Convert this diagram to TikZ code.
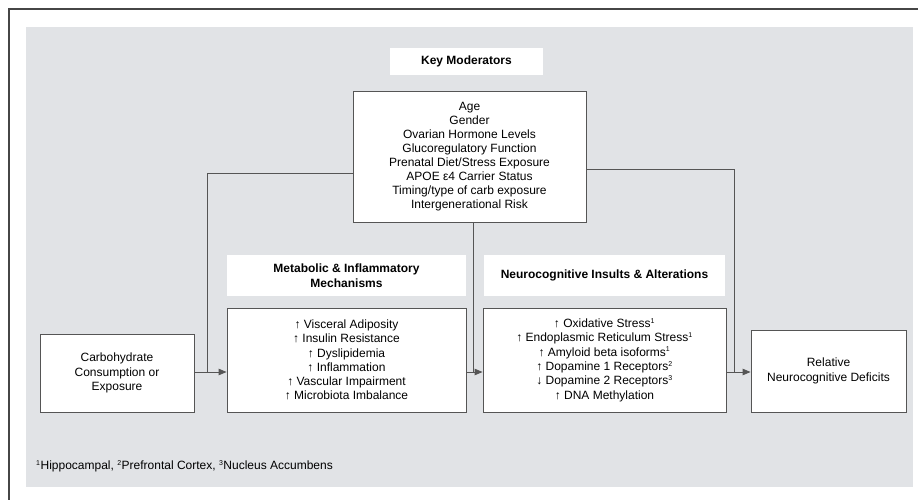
\documentclass[tikz,border=0pt]{standalone}
\usepackage{fontspec}
\setmainfont{Liberation Sans}
\usetikzlibrary{arrows.meta}
\definecolor{panel}{RGB}{225,227,230}
\definecolor{edge}{RGB}{85,85,85}
\definecolor{frame}{RGB}{70,70,70}
\newcommand{\sps}[1]{\textsuperscript{\fontsize{7}{7}\selectfont #1}}
\tikzset{
  box/.style={draw=edge, line width=0.9pt, fill=white, align=center, inner sep=0pt,
    font=\fontsize{12}{14.3}\selectfont},
  hdr/.style={fill=white, align=center, inner sep=0pt, font=\fontsize{12}{15}\bfseries\selectfont},
  conn/.style={draw=edge, line width=0.9pt},
  arr/.style={conn, -{Triangle[length=8pt,width=6.5pt]}},
}
\begin{document}
\begin{tikzpicture}[x=1pt,y=-1pt]
\useasboundingbox (0,0) rectangle (918,500);
\fill[white] (0,0) rectangle (918,500);
\draw[frame, line width=1.4pt] (9,500) -- (9,9) -- (918,9);
\fill[panel] (26,27) rectangle (913,487);

\node[hdr, minimum width=153pt, minimum height=27pt] (keyhdr) at (466.5,61.5) {Key Moderators};
\node[box, minimum width=233pt, minimum height=131pt, font=\fontsize{12}{14}\selectfont] (mod) at (469.5,156.5)
 {Age\\Gender\\Ovarian Hormone Levels\\Glucoregulatory Function\\Prenatal Diet/Stress Exposure\\APOE ε4 Carrier Status\\Timing/type of carb exposure\\Intergenerational Risk};

\node[hdr, minimum width=239pt, minimum height=41pt] (methdr) at (346.5,275.5) {Metabolic \& Inflammatory\\Mechanisms};
\node[hdr, minimum width=241pt, minimum height=41pt] (neuhdr) at (604.5,275.5) {Neurocognitive Insults \& Alterations};

\node[box, minimum width=154pt, minimum height=78pt, font=\fontsize{12}{14.8}\selectfont] (carb) at (117,373) {Carbohydrate\\Consumption or\\Exposure};
\node[box, minimum width=239pt, minimum height=104pt] (metab) at (346.5,360)
 {↑ Visceral Adiposity\\↑ Insulin Resistance\\↑ Dyslipidemia\\↑ Inflammation\\↑ Vascular Impairment\\↑ Microbiota Imbalance};
\node[box, minimum width=243pt, minimum height=104pt] (neuro) at (604.5,360)
 {↑ Oxidative Stress\sps{1}\\↑ Endoplasmic Reticulum Stress\sps{1}\\↑ Amyloid beta isoforms\sps{1}\\↑ Dopamine 1 Receptors\sps{2}\\↓ Dopamine 2 Receptors\sps{3}\\↑ DNA Methylation};
\node[box, minimum width=155pt, minimum height=82pt, font=\fontsize{12}{15.5}\selectfont] (rel) at (828.5,371) {Relative\\Neurocognitive Deficits};

\node[anchor=west, inner sep=0pt, font=\fontsize{12}{13}\selectfont] (foot) at (36,466)
 {\sps{1}Hippocampal, \sps{2}Prefrontal Cortex, \sps{3}Nucleus Accumbens};

\coordinate (ay) at (0,372);
\coordinate (lt) at (207,173);
\coordinate (rt) at (734,169);
\coordinate (lj) at (207,372);
\coordinate (mj) at (473,372);
\coordinate (rj) at (734,372);

\draw[arr] (carb.east |- ay) -- (metab.west |- ay);
\draw[arr] (metab.east |- ay) -- (neuro.west |- ay);
\draw[arr] (neuro.east |- ay) -- (rel.west |- ay);
\draw[conn] (mod.west |- lt) -- (lt) -- (lj);
\draw[conn] (mod.east |- rt) -- (rt) -- (rj);
\draw[conn] (mod.south -| mj) -- (mj);
\end{tikzpicture}
\end{document}
